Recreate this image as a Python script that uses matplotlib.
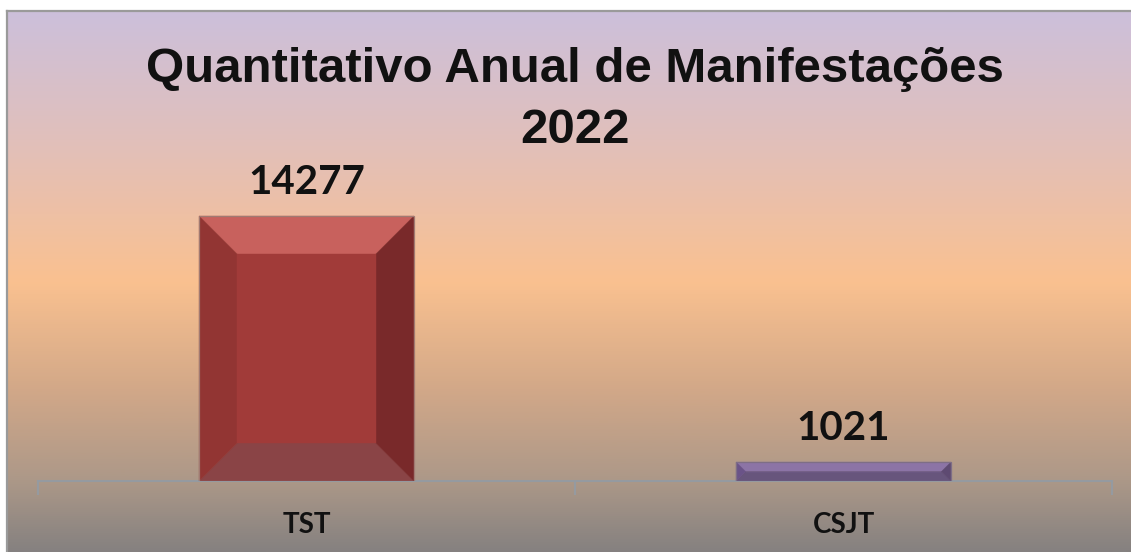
import numpy as np
import matplotlib
matplotlib.use("Agg")
import matplotlib.pyplot as plt
from matplotlib.patches import Polygon
from matplotlib.colors import LinearSegmentedColormap

# ---- data ----
categories = ["TST", "CSJT"]
values = [14277, 1021]
title_line1 = "Quantitativo Anual de Manifestações"
title_line2 = "2022"

# ---- styles ----
bar_faces = [
    dict(top="#C8615D", left="#923533", right="#79292A", bottom="#8A4446", center="#A13B39", edge="#A07A72"),
    dict(top="#8C74A6", left="#6A5388", right="#5E4A72", bottom="#67557C", center="#7A6396", edge="#7E6E86"),
]

W, H = 1131, 552
fig = plt.figure(figsize=(W / 100, H / 100), dpi=100)
fig.patch.set_facecolor("white")

# background gradient panel
bg_left, bg_top = 7, 11
bg = fig.add_axes([bg_left / W, 0, 1 - bg_left / W, 1 - bg_top / H])
stops = [
    (0.00, (204 / 255, 192 / 255, 219 / 255)),
    (0.25, (226 / 255, 191 / 255, 185 / 255)),
    (0.50, (250 / 255, 193 / 255, 144 / 255)),
    (0.70, (210 / 255, 168 / 255, 136 / 255)),
    (0.87, (172 / 255, 152 / 255, 136 / 255)),
    (1.00, (133 / 255, 129 / 255, 128 / 255)),
]
cmap = LinearSegmentedColormap.from_list("bg", stops)
grad = np.linspace(0, 1, 512).reshape(-1, 1)
bg.imshow(grad, aspect="auto", cmap=cmap, extent=[0, 1, 0, 1], origin="upper")
bg.set_xlim(0, 1)
bg.set_ylim(0, 1)
bg.axis("off")
# border lines (top and left)
bg.plot([0, 1], [1, 1], color="#9A9A9A", lw=1.6, transform=bg.transAxes, clip_on=False)
bg.plot([0, 0], [0, 1], color="#9A9A9A", lw=1.6, transform=bg.transAxes, clip_on=False)

# plot axes
ax_left, ax_right, ax_bottom, ax_top = 38, 1112, 481, 80
ax = fig.add_axes([ax_left / W, 1 - ax_bottom / H, (ax_right - ax_left) / W, (ax_bottom - ax_top) / H])
ax.patch.set_alpha(0)
ymax = 14277 * (ax_bottom - ax_top) / (ax_bottom - 216)
ax.set_xlim(-0.5, len(categories) - 0.5)
ax.set_ylim(0, ymax)
for s in ["top", "right", "left"]:
    ax.spines[s].set_visible(False)
ax.spines["bottom"].set_color("#959AA0")
ax.spines["bottom"].set_linewidth(1.5)
ax.set_yticks([])
ax.set_xticks(np.arange(len(categories) + 1) - 0.5)
ax.set_xticklabels([])
ax.tick_params(axis="x", length=10, width=1.5, color="#959AA0", direction="out")

x = np.arange(len(categories))
bw = 0.4
bars = ax.bar(x, values, width=bw, color="none", edgecolor="none")

px_x = (ax_right - ax_left) / (len(categories))  # pixels per x unit
px_y = (ax_bottom - ax_top) / ymax                # pixels per y unit
bevel_px = 38

for xi, v, st in zip(x, values, bar_faces):
    x0, x1 = xi - bw / 2, xi + bw / 2
    y0, y1 = 0, v
    h_px = v * px_y
    w_px = bw * px_x
    b = min(bevel_px, h_px / 2, w_px / 2)
    bx = b / px_x
    by = b / px_y
    ix0, ix1, iy0, iy1 = x0 + bx, x1 - bx, y0 + by, y1 - by
    polys = [
        ([(x0, y1), (x1, y1), (ix1, iy1), (ix0, iy1)], st["top"]),
        ([(x0, y0), (x1, y0), (ix1, iy0), (ix0, iy0)], st["bottom"]),
        ([(x0, y0), (x0, y1), (ix0, iy1), (ix0, iy0)], st["left"]),
        ([(x1, y0), (x1, y1), (ix1, iy1), (ix1, iy0)], st["right"]),
        ([(ix0, iy0), (ix1, iy0), (ix1, iy1), (ix0, iy1)], st["center"]),
    ]
    for pts, c in polys:
        ax.add_patch(Polygon(pts, closed=True, facecolor=c, edgecolor=c, lw=0.3, zorder=3))
    ax.add_patch(Polygon([(x0, y0), (x1, y0), (x1, y1), (x0, y1)], closed=True,
                         facecolor="none", edgecolor=st["edge"], lw=0.9, zorder=4))
    ax.annotate(f"{v}", xy=(xi, v), xytext=(0, 22 * 0.72), textcoords="offset points",
                ha="center", va="baseline", fontsize=29, fontweight="bold",
                family="Lato", color="#111111", zorder=5)

for xi, c in zip(x, categories):
    ax.text(xi, -(533 - ax_bottom) / px_y, c, ha="center", va="baseline",
            fontsize=20, fontweight="bold", family="Lato", color="#111111", clip_on=False)

fig.text(575 / W, 1 - 82 / H, title_line1, ha="center", va="baseline",
         fontsize=35.4, fontweight="bold", family="Liberation Sans", color="#111111")
fig.text(575 / W, 1 - 143 / H, title_line2, ha="center", va="baseline",
         fontsize=35.4, fontweight="bold", family="Liberation Sans", color="#111111")

fig.savefig("out.png", dpi=100)
